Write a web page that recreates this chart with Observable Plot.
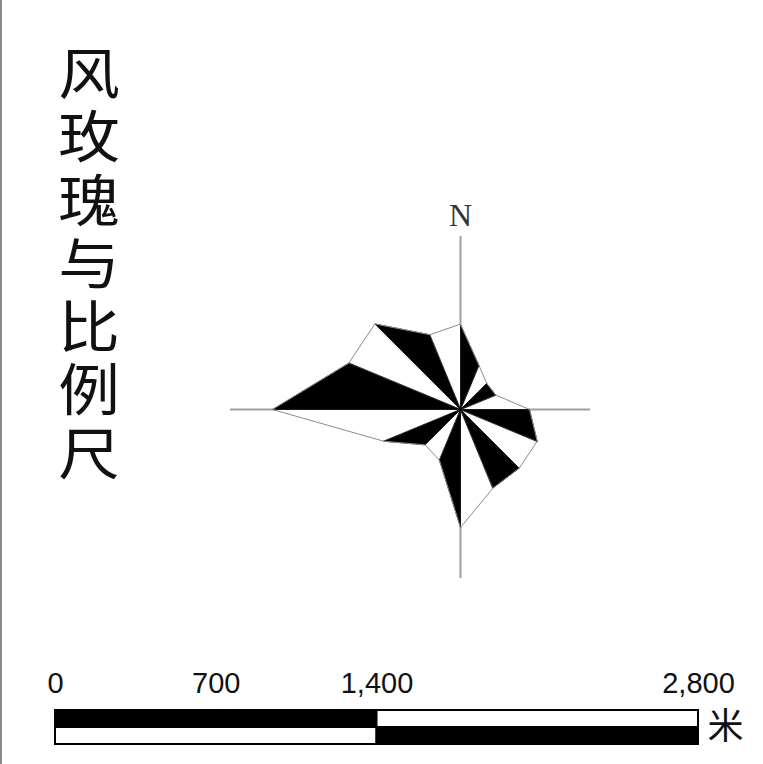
<!DOCTYPE html>
<html>
<head>
<meta charset="utf-8">
<script src="https://cdn.jsdelivr.net/npm/d3@7"></script>
<script src="https://cdn.jsdelivr.net/npm/@observablehq/plot@0.6"></script>
<style>
  html, body { margin: 0; padding: 0; background: #fff; }
  #page { position: relative; width: 763px; height: 764px; overflow: hidden; background: #fff; }
  #frame { position: absolute; left: 0; top: 0; width: 2px; height: 764px; background: #8a8a8a; }
  #title { position: absolute; left: 59px; top: 38px; width: 60px; font-family: "Noto Sans CJK SC", sans-serif;
           font-size: 56px; line-height: 63.3px; text-align: center; color: #111; word-break: break-all;
           transform: scaleX(1.1); transform-origin: center top; }
  #rose { position: absolute; left: 200px; top: 189px; }
  #scale { position: absolute; left: 0; top: 650px; }
  svg { display: block; }
</style>
</head>
<body>
<div id="page">
  <div id="frame"></div>
  <div id="title"></div>
  <div id="rose"></div>
  <div id="scale"></div>
</div>
<script>
// ---- data ----
const titleText = "风玫瑰与比例尺";
const directions = ["N","NNE","NE","ENE","E","ESE","SE","SSE","S","SSW","SW","WSW","W","WNW","NW","NNW"];
const frequencies = [8.5, 4.8, 3.7, 3.8, 6.9, 8.3, 8.3, 8.5, 11.8, 5.5, 5.0, 8.3, 18.8, 12.1, 12.1, 8.1];
const northLabel = ["N"];
const axisXExtent = [-23, 13];
const axisYExtent = [-16.9, 17.3];
const scaleTicks = [0, 700, 1400, 2800];
const scaleTickLabels = ["0", "700", "1,400", "2,800"];
const scaleSegStart = [0, 1400];
const scaleSegEnd = [1400, 2800];
const topRowFill = ["black", "white"];
const bottomRowFill = ["white", "black"];
const scaleUnit = ["米"];

// ---- title ----
document.getElementById("title").textContent = titleText;

// ---- wind rose ----
const pts = directions.map((d, i) => ({
  dir: d,
  x: frequencies[i] * Math.sin(i * Math.PI / 8),
  y: frequencies[i] * Math.cos(i * Math.PI / 8)
}));
const tris = [];
for (let i = 0; i < directions.length; i += 2) {
  const a = pts[i], b = pts[(i + 1) % pts.length];
  tris.push({k: i, x: 0, y: 0}, {k: i, x: a.x, y: a.y}, {k: i, x: b.x, y: b.y});
}

const rose = Plot.plot({
  width: 400, height: 440, margin: 0,
  x: {domain: [-26, 14], axis: null},
  y: {domain: [-22, 22], axis: null},
  style: {background: "transparent"},
  marks: [
    Plot.ruleX([0], {y1: axisYExtent[0], y2: axisYExtent[1], stroke: "#a0a0a0", strokeWidth: 2}),
    Plot.ruleY([0], {x1: axisXExtent[0], x2: axisXExtent[1], stroke: "#a0a0a0", strokeWidth: 2}),
    Plot.line(pts, {x: "x", y: "y", curve: "linear-closed", fill: "white", stroke: "none"}),
    Plot.line(tris, {x: "x", y: "y", z: "k", curve: "linear-closed", fill: "black", stroke: "black", strokeWidth: 0.8}),
    Plot.line(pts, {x: "x", y: "y", curve: "linear-closed", fill: "none", stroke: "#8c8c8c", strokeWidth: 1}),
    Plot.text(northLabel, {x: () => 0, y: () => 19.4, text: d => d, fontSize: 32,
      fontFamily: "Liberation Serif", fill: "#333"})
  ]
});
document.getElementById("rose").appendChild(rose);

// ---- scale bar ----
const segs = [];
scaleSegStart.forEach((s, i) => {
  segs.push({x1: s, x2: scaleSegEnd[i], y1: 1, y2: 2, fill: topRowFill[i]});
  segs.push({x1: s, x2: scaleSegEnd[i], y1: 0, y2: 1, fill: bottomRowFill[i]});
});

const scaleBar = Plot.plot({
  width: 763, height: 114,
  marginLeft: 55, marginRight: 65, marginTop: 60, marginBottom: 20,
  x: {domain: [0, 2800], axis: null},
  y: {domain: [0, 2], axis: null},
  style: {background: "transparent"},
  marks: [
    Plot.rect(segs, {x1: "x1", x2: "x2", y1: "y1", y2: "y2", fill: "fill", stroke: "black", strokeWidth: 2}),
    Plot.text(scaleTicks, {x: d => d, y: () => 2, text: (d, i) => scaleTickLabels[i], dy: -18,
      lineAnchor: "bottom", fontSize: 29, fontFamily: "Liberation Sans", fill: "#111"}),
    Plot.text(scaleUnit, {x: () => 2800, y: () => 1, text: d => d, dx: 27, fontSize: 36,
      fontFamily: "Noto Sans CJK SC", fill: "#111"})
  ]
});
document.getElementById("scale").appendChild(scaleBar);
</script>
</body>
</html>
